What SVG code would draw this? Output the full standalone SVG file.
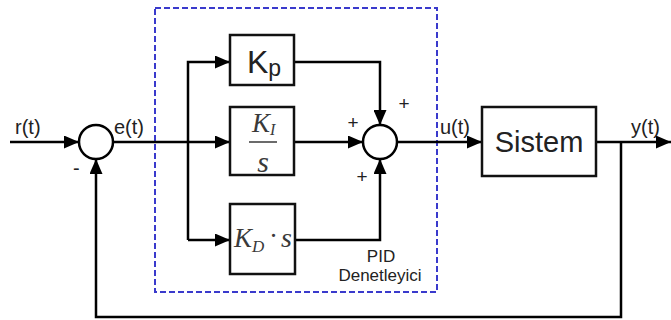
<svg xmlns="http://www.w3.org/2000/svg" width="671" height="320" viewBox="0 0 671 320">
<defs>
<marker id="arr" markerUnits="userSpaceOnUse" markerWidth="15" markerHeight="13" refX="15" refY="6.5" orient="auto">
<path d="M0,0 L15,6.5 L0,13 z" fill="#000"/>
</marker>
</defs>
<style>
.ln{fill:none;stroke:#000;stroke-width:2.5}
.bx{fill:#fff;stroke:#111;stroke-width:2.5}
.sum{fill:#fff;stroke:#000;stroke-width:2.5}
.lbl{font-family:"Liberation Sans",Arial,sans-serif;fill:#222}
.mt{font-family:"Liberation Serif","Times New Roman",serif;font-style:italic;fill:#3a3a3a}
</style>
<rect x="155" y="8" width="282" height="284" fill="none" stroke="#3a3acc" stroke-width="2" stroke-dasharray="6,3"/>
<g id="connectors">
<path class="ln" d="M10,142 H79" marker-end="url(#arr)"/>
<path class="ln" d="M113,142 H230" marker-end="url(#arr)"/>
<path class="ln" d="M188,240 V62 H230" marker-end="url(#arr)"/>
<path class="ln" d="M188,240 H230" marker-end="url(#arr)"/>
<path class="ln" d="M294,62 H380 V125" marker-end="url(#arr)"/>
<path class="ln" d="M294,142 H363" marker-end="url(#arr)"/>
<path class="ln" d="M295,240 H380 V159" marker-end="url(#arr)"/>
<path class="ln" d="M397,142 H482" marker-end="url(#arr)"/>
<path class="ln" d="M596,142 H671" marker-end="url(#arr)"/>
<path class="ln" d="M621,142 V317 H96 V159" marker-end="url(#arr)"/>
</g>
<g id="sum1">
<circle class="sum" cx="96" cy="142" r="17"/>
<text class="lbl" x="73" y="175" font-size="20">-</text>
</g>
<g id="kp">
<rect class="bx" x="230" y="35" width="64" height="50"/>
<text class="lbl" x="247" y="73" font-size="32">K<tspan font-size="23" dy="3">p</tspan></text>
</g>
<g id="ki">
<rect class="bx" x="230" y="107" width="64" height="68"/>
<text class="mt" x="252" y="132" font-size="27">K<tspan font-size="16" dy="3">I</tspan></text>
<line x1="249" y1="142" x2="277" y2="142" stroke="#3a3a3a" stroke-width="1.5"/>
<text class="mt" x="263" y="172" font-size="30" text-anchor="middle">s</text>
</g>
<g id="kd">
<rect class="bx" x="230" y="204" width="65" height="70"/>
<text class="mt" x="234" y="247" font-size="27">K<tspan font-size="17" dy="5">D</tspan></text>
<text class="mt" x="273" y="245" font-size="27" font-style="normal" text-anchor="middle">·</text>
<text class="mt" x="281" y="247" font-size="28">s</text>
</g>
<g id="sum2">
<circle class="sum" cx="380" cy="142" r="17"/>
<text class="lbl" x="404" y="110" font-size="19" text-anchor="middle">+</text>
<text class="lbl" x="353" y="129" font-size="19" text-anchor="middle">+</text>
<text class="lbl" x="362" y="183" font-size="19" text-anchor="middle">+</text>
</g>
<g id="sistem">
<rect class="bx" x="482" y="107" width="114" height="69"/>
<text class="lbl" x="539" y="152" font-size="29" text-anchor="middle">Sistem</text>
</g>
<g id="labels">
<text class="lbl" x="15" y="134" font-size="20">r(t)</text>
<text class="lbl" x="114" y="134" font-size="20">e(t)</text>
<text class="lbl" x="440" y="134" font-size="20">u(t)</text>
<text class="lbl" x="631" y="134" font-size="20">y(t)</text>
<text class="lbl" x="381" y="262" font-size="17" text-anchor="middle">PID</text>
<text class="lbl" x="380" y="281" font-size="17" text-anchor="middle">Denetleyici</text>
</g>
</svg>
